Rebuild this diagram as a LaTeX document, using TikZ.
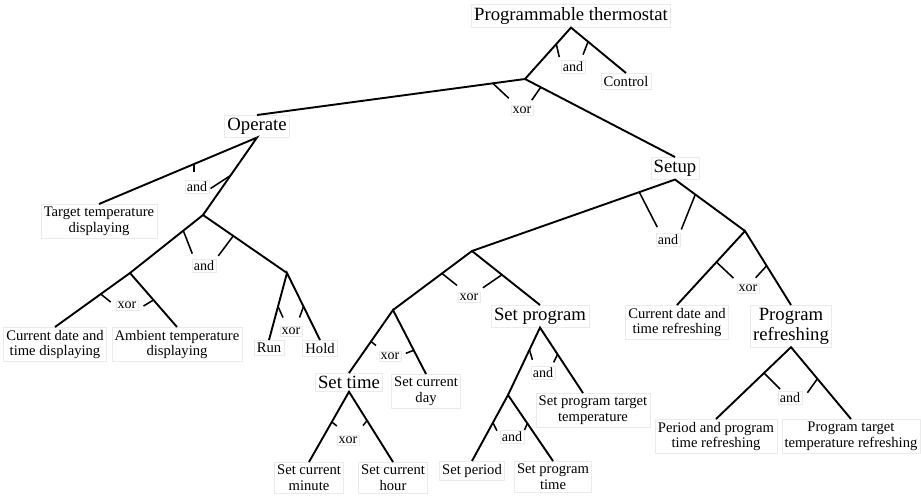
\documentclass[tikz,border=0pt]{standalone}
\usepackage{fontspec}
\setmainfont{Liberation Serif}
\usetikzlibrary{calc}

\tikzset{
	feat/.style={draw=black!8, line width=0.4pt, inner sep=2pt, align=center},
	bigfeat/.style={feat, font=\fontsize{13.3}{14}\selectfont},
	smallfeat/.style={feat, font=\fontsize{10.4}{11}\selectfont},
	gatelabel/.style={draw=black!8, line width=0.4pt, inner sep=1.2pt, fill=white, font=\fontsize{10}{11}\selectfont},
	branch/.style={line width=1.35pt},
	tick/.style={line width=1.1pt}
}

\begin{document}
\begin{tikzpicture}[x=0.025cm, y=-0.025cm]
			%%%%% START %%%%%
			\useasboundingbox (0, 0) rectangle (921, 496);
			
			\node[bigfeat] (root) at (571, 16) {Programmable thermostat};
			\node[smallfeat, anchor=north] (ctrl) at (626, 73) {Control};
			\node[bigfeat, anchor=north] (operate) at (257, 115) {Operate};
			\node[bigfeat, anchor=north] (setup) at (675, 157) {Setup};
			
			\node[smallfeat, anchor=north] (target) at (99, 204) {Target temperature\\displaying};
			\node[smallfeat, anchor=north] (curdisp) at (55, 327) {Current date and\\time displaying};
			\node[smallfeat, anchor=north] (ambient) at (177, 327) {Ambient temperature\\displaying};
			\node[smallfeat, anchor=north] (run) at (269, 340) {Run};
			\node[smallfeat, anchor=north] (hold) at (320, 340) {Hold};
			
			\node[bigfeat, anchor=north] (setprog) at (540, 305) {Set program};
			\node[bigfeat, anchor=north] (settime) at (349, 373) {Set time};
			\node[smallfeat, anchor=north] (setday) at (426, 374) {Set current\\day};
			\node[smallfeat, anchor=north] (minute) at (309, 462) {Set current\\minute};
			\node[smallfeat, anchor=north] (hour) at (393, 462) {Set current\\hour};
			\node[smallfeat, anchor=north] (period) at (472, 461) {Set period};
			\node[smallfeat, anchor=north] (progtime) at (553, 461) {Set program\\time};
			\node[smallfeat, anchor=north] (progtemp) at (593, 393) {Set program target\\temperature};
			
			\node[smallfeat, anchor=north] (currefr) at (677, 305) {Current date and\\time refreshing};
			\node[bigfeat, anchor=north] (progrefr) at (791, 305) {Program\\refreshing};
			\node[smallfeat, anchor=north] (perref) at (716, 419) {Period and program\\time refreshing};
			\node[smallfeat, anchor=north] (tempref) at (851, 419) {Program target\\temperature refreshing};
			
			% inner joints
			\coordinate (split) at (525, 79);
			\coordinate (opand) at (203, 215);
			\coordinate (dispxor) at (130, 273);
			\coordinate (runxor) at (287, 273);
			\coordinate (setxor) at (472, 251);
			\coordinate (refrxor) at (745, 231);
			\coordinate (timexor) at (393, 310);
			\coordinate (progand) at (508, 395);
			\coordinate (temptop) at ($(progtemp.north)+(-10, 0)$);
			
			% branches
			\draw[branch] (split) -- (root.south) -- (ctrl.north);
			\draw[branch] (operate.north) -- (split) -- (setup.north);
			\draw[branch] (target.north) -- (operate.south) -- (opand);
			\draw[branch] (dispxor) -- (opand) -- (runxor);
			\draw[branch] (curdisp.north) -- (dispxor) -- (ambient.north);
			\draw[branch] (run.north) -- (runxor) -- (hold.north);
			\draw[branch] (setxor) -- (setup.south) -- (refrxor);
			\draw[branch] (timexor) -- (setxor) -- (setprog.north);
			\draw[branch] (settime.north) -- (timexor) -- (setday.north);
			\draw[branch] (minute.north) -- (settime.south) -- (hour.north);
			\draw[branch] (progand) -- (setprog.south) -- (temptop);
			\draw[branch] (period.north) -- (progand) -- (progtime.north);
			\draw[branch] (currefr.north) -- (refrxor) -- (progrefr.north);
			\draw[branch] (perref.north) -- (progrefr.south) -- (tempref.north);
			
			% and / xor marks
			\draw[tick] ($(root.south)!0.32!(split)$) -- ++(3, 13);
			\draw[tick] ($(root.south)!0.31!(ctrl.north)$) -- ++(-5, 13);
			\node[gatelabel] (rootand) at (573, 67) {and};
			
			\draw[tick] ($(split)!0.12!(operate.north)$) -- ++(16, 15);
			\draw[tick] ($(split)!0.105!(setup.north)$) -- ++(-9, 13);
			\node[gatelabel] (rootxor) at (522, 110) {xor};
			
			\draw[tick] ($(operate.south)!0.4!(target.north)$) -- ++(0, 8);
			\draw[tick] ($(operate.south)!0.49!(opand)$) -- ++(-20, 13);
			\node[gatelabel] (operand) at (197, 187) {and};
			
			\draw[tick] ($(opand)!0.27!(dispxor)$) -- ++(9, 23);
			\draw[tick] ($(opand)!0.36!(runxor)$) -- ++(-15, 20);
			\node[gatelabel] (dispand) at (204, 266) {and};
			
			\draw[tick] ($(dispxor)!0.39!(curdisp.north)$) -- ++(10, 8);
			\draw[tick] ($(dispxor)!0.5!(ambient.north)$) -- ++(-10, 6);
			\node[gatelabel] (displabel) at (127, 305) {xor};
			
			\draw[tick] ($(runxor)!0.5!(run.north)$) -- ++(5, 11);
			\draw[tick] ($(runxor)!0.5!(hold.north)$) -- ++(-4, 11);
			\node[gatelabel] (runlabel) at (291, 331) {xor};
			
			\draw[tick] ($(setup.south)!0.176!(setxor)$) -- ++(18, 35);
			\draw[tick] ($(setup.south)!0.29!(refrxor)$) -- ++(-14, 35);
			\node[gatelabel] (setupand) at (668, 240) {and};
			
			\draw[tick] ($(setxor)!0.38!(timexor)$) -- ++(15, 12);
			\draw[tick] ($(setxor)!0.44!(setprog.north)$) -- ++(-19, 13);
			\node[gatelabel] (setlabel) at (469, 297) {xor};
			
			\draw[tick] ($(timexor)!0.5!(settime.north)$) -- ++(5, 4);
			\draw[tick] ($(timexor)!0.63!(setday.north)$) -- ++(-8, 3);
			\node[gatelabel] (daylabel) at (390, 356) {xor};
			
			\draw[tick] ($(settime.south)!0.43!(minute.north)$) -- ++(5, 4);
			\draw[tick] ($(settime.south)!0.41!(hour.north)$) -- ++(-4, 5);
			\node[gatelabel] (clocklabel) at (348, 440) {xor};
			
			\draw[tick] ($(setprog.south)!0.33!(progand)$) -- ++(3, 10);
			\draw[tick] ($(setprog.south)!0.41!(temptop)$) -- ++(-4, 8);
			\node[gatelabel] (proglabel) at (543, 373) {and};
			
			\draw[tick] ($(progand)!0.42!(period.north)$) -- ++(4, 8);
			\draw[tick] ($(progand)!0.43!(progtime.north)$) -- ++(-3, 7);
			\node[gatelabel] (periodlabel) at (512, 437) {and};
			
			\draw[tick] ($(refrxor)!0.42!(currefr.north)$) -- ++(17, 16);
			\draw[tick] ($(refrxor)!0.47!(progrefr.north)$) -- ++(-11, 12);
			\node[gatelabel] (refrlabel) at (748, 288) {xor};
			
			\draw[tick] ($(progrefr.south)!0.36!(perref.north)$) -- ++(16, 16);
			\draw[tick] ($(progrefr.south)!0.44!(tempref.north)$) -- ++(-10, 14);
			\node[gatelabel] (refrand) at (790, 398) {and};
			%%%%% END %%%%%
\end{tikzpicture}
\end{document}
